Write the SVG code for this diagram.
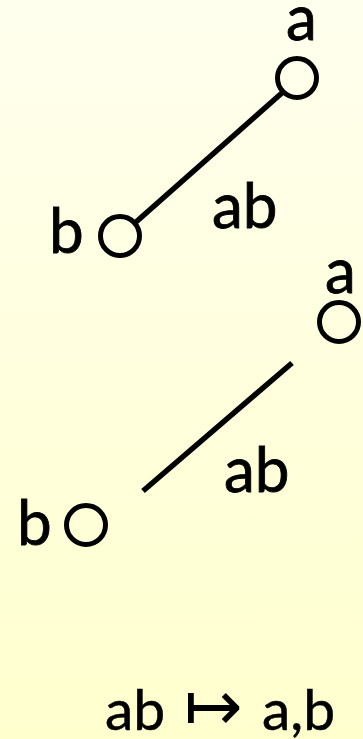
<svg xmlns="http://www.w3.org/2000/svg" width="363" height="739" viewBox="0 0 363 739">
<defs>
<linearGradient id="bg" x1="0" y1="0" x2="0" y2="1">
<stop offset="0" stop-color="#FFFFEE"/>
<stop offset="1" stop-color="#FFFFCE"/>
</linearGradient>
</defs>
<style>
.t{font-family:Lato,"Open Sans",sans-serif;font-size:62px;fill:#000;stroke:#000;stroke-width:0.8}
.n{fill:none;stroke:#000;stroke-width:5}
.e{stroke:#000;stroke-width:5.5;fill:none}
</style>
<rect width="363" height="739" fill="url(#bg)"/>
<g id="connectors">
<line class="e" x1="283" y1="92" x2="136" y2="222"/>
<line class="e" x1="292" y1="363" x2="143" y2="491"/>
</g>
<g id="a1"><circle class="n" cx="297" cy="78" r="19.5"/><text class="t" x="286" y="40">a</text></g>
<g id="b1"><circle class="n" cx="120" cy="236" r="19.5"/><text class="t" x="49" y="253">b</text></g>
<text class="t" x="212" y="228">ab</text>
<g id="a2"><circle class="n" cx="339" cy="322" r="19.5"/><text class="t" x="325" y="293">a</text></g>
<g id="b2"><circle class="n" cx="86" cy="525" r="19.5"/><text class="t" x="17" y="545">b</text></g>
<text class="t" x="224" y="492">ab</text>
<text class="t" style="font-size:57px;stroke-width:0.5" y="730"><tspan x="105">ab</tspan><tspan x="184" style="font-family:'DejaVu Sans',sans-serif;font-weight:200;font-size:70px;stroke-width:0">↦</tspan><tspan x="262">a,b</tspan></text>
</svg>
